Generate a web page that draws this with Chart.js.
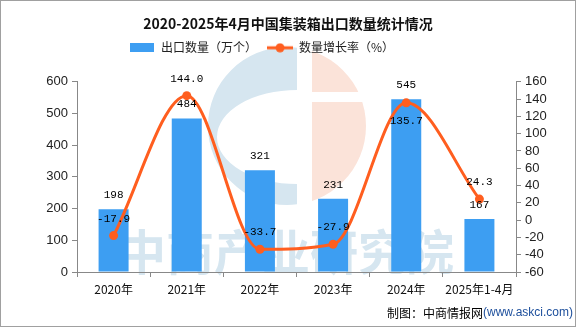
<!DOCTYPE html>
<html>
<head>
<meta charset="utf-8">
<script src="https://cdn.jsdelivr.net/npm/chart.js@4.4.0/dist/chart.umd.min.js"></script>
<style>
html, body { margin: 0; padding: 0; background: #fff; }
</style>
</head>
<body>
<canvas id="chart" width="576" height="327"></canvas>
<script>
// data
var categories = ["2020年", "2021年", "2022年", "2023年", "2024年", "2025年1-4月"];
var exportQty = [198, 484, 321, 231, 545, 167];          // 出口数量（万个）
var growthRate = [-17.9, 144.0, -33.7, -27.9, 135.7, 24.3]; // 数量增长率（%）

var BAR_COLOR = "#3d9ef2";
var LINE_COLOR = "#ff5e1f";
var CJK = "'Noto Sans CJK SC', 'Liberation Sans', sans-serif";
var NUM = "'Liberation Sans', 'DejaVu Sans', sans-serif";

// legend icons
function makeIcon(w, h, draw) {
	var c = document.createElement("canvas");
	c.width = w; c.height = h;
	draw(c.getContext("2d"));
	return c;
}
var barIcon = makeIcon(24, 9, function (g) {
	g.fillStyle = BAR_COLOR;
	g.fillRect(0, 0, 24, 9);
});
var lineIcon = makeIcon(26, 10, function (g) {
	g.strokeStyle = LINE_COLOR;
	g.lineWidth = 3;
	g.beginPath(); g.moveTo(0, 5); g.lineTo(26, 5); g.stroke();
	g.fillStyle = LINE_COLOR;
	g.beginPath(); g.arc(13, 5, 4.5, 0, Math.PI * 2); g.fill();
});

// watermark, labels, footer, border
var decoPlugin = {
	id: "deco",
	beforeLayout: function (chart) {
		// give the legend a fixed block height so the plot starts lower
		var lg = chart.legend;
		if (lg && !lg._fixed) {
			var fit = lg.fit;
			lg.fit = function () { fit.call(this); this.height = 50; };
			lg._fixed = true;
		}
	},
	beforeDraw: function (chart) {
		var ctx = chart.ctx;
		ctx.save();
		ctx.fillStyle = "#fff";
		ctx.fillRect(0, 0, chart.width, chart.height);

		// blue "C"
		ctx.save();
		ctx.beginPath(); ctx.rect(0, 0, 297, 327); ctx.clip();
		ctx.beginPath();
		ctx.arc(287, 126, 79, 0, Math.PI * 2);
		ctx.ellipse(297, 137, 80, 47, 0, 0, Math.PI * 2);
		ctx.fillStyle = "#d6e6f0";
		ctx.fill("evenodd");
		ctx.restore();

		// peach half
		ctx.save();
		ctx.beginPath(); ctx.rect(312, 0, 100, 92); ctx.rect(312, 102, 100, 200); ctx.clip();
		ctx.beginPath();
		ctx.arc(287, 126, 79, 0, Math.PI * 2);
		ctx.fillStyle = "#fbe3d9";
		ctx.fill();
		ctx.restore();

		// text watermark
		ctx.font = "bold 48px " + CJK;
		ctx.fillStyle = "#d6e6f0";
		ctx.textBaseline = "middle";
		ctx.textAlign = "left";
		ctx.fillText("中商产业研究院", 118, 252);
		ctx.restore();
	},
	afterLayout: function (chart) {
		// legend sits left of centre in the reference
		chart.legend.left = 119;
	},
	afterDatasetsDraw: function (chart) {
		var ctx = chart.ctx;
		ctx.save();
		ctx.font = "11px 'Liberation Mono', monospace";
		ctx.fillStyle = "#000";
		ctx.textAlign = "center";
		ctx.textBaseline = "middle";
		var bars = chart.getDatasetMeta(0).data;
		bars.forEach(function (el, i) {
			ctx.fillText(String(exportQty[i]), el.x, el.y - 14);
		});
		chart.getDatasetMeta(1).data.forEach(function (el, i) {
			// put the label under the point when it would collide with the bar label
			var below = Math.abs(el.y - bars[i].y) < 12;
			ctx.fillText(growthRate[i].toFixed(1), el.x, below ? el.y + 18 : el.y - 17);
		});
		ctx.restore();
	},
	afterDraw: function (chart) {
		var ctx = chart.ctx;
		ctx.save();
		ctx.textBaseline = "middle";
		ctx.textAlign = "left";
		ctx.font = "12px " + CJK;
		ctx.fillStyle = "#000";
		var t1 = "制图：中商情报网";
		ctx.fillText(t1, 387, 313);
		var w1 = ctx.measureText(t1).width;
		ctx.font = "12px " + NUM;
		ctx.fillStyle = "#1d4f9c";
		ctx.fillText("(www.askci.com)", 387 + w1, 313);
		ctx.strokeStyle = "#a0a0a0";
		ctx.lineWidth = 1;
		ctx.strokeRect(0.5, 0.5, chart.width - 1, chart.height - 1);
		ctx.restore();
	}
};

Chart.defaults.font.family = CJK;
Chart.defaults.color = "#222";

new Chart(document.getElementById("chart"), {
	type: "bar",
	data: {
		labels: categories,
		datasets: [
			{
				type: "bar",
				label: "出口数量（万个）",
				data: exportQty,
				backgroundColor: BAR_COLOR,
				barPercentage: 0.41,
				categoryPercentage: 1,
				yAxisID: "y",
				order: 2
			},
			{
				type: "line",
				label: "数量增长率（%）",
				data: growthRate,
				borderColor: LINE_COLOR,
				backgroundColor: LINE_COLOR,
				borderWidth: 3,
				pointRadius: 4.5,
				pointBorderWidth: 0,
				cubicInterpolationMode: "monotone",
				yAxisID: "y1",
				order: 1
			}
		]
	},
	options: {
		responsive: false,
		animation: false,
		layout: { padding: 0 },
		plugins: {
			title: {
				display: true,
				text: "2020-2025年4月中国集装箱出口数量统计情况",
				color: "#111",
				font: { size: 14, weight: "bold", family: CJK },
				padding: { top: 15, bottom: 0 }
			},
			legend: {
				align: "start",
				labels: {
					usePointStyle: true,
					pointStyleWidth: 26,
					padding: 10,
					color: "#222",
					font: { size: 12, family: CJK },
					generateLabels: function (chart) {
						var items = Chart.defaults.plugins.legend.labels.generateLabels(chart);
						items.sort(function (a, b) { return a.datasetIndex - b.datasetIndex; });
						items.forEach(function (it) {
							it.pointStyle = it.datasetIndex === 0 ? barIcon : lineIcon;
						});
						return items;
					}
				},
				onClick: null
			},
			tooltip: { enabled: false }
		},
		scales: {
			x: {
				grid: { display: true, drawOnChartArea: false, tickLength: 5, color: "#888", offset: true },
				border: { color: "#888" },
				ticks: { color: "#111", padding: 5, font: { size: 12, family: CJK }, maxRotation: 0, autoSkip: false },
				afterFit: function (s) { s.height = 55; }
			},
			y: {
				position: "left",
				min: 0, max: 600,
				ticks: { stepSize: 100, color: "#222", padding: 4, autoSkip: false, font: { size: 13, family: NUM } },
				grid: { drawOnChartArea: false, tickLength: 5, color: "#888" },
				border: { color: "#888" },
				afterFit: function (s) { s.width = 77; }
			},
			y1: {
				position: "right",
				min: -60, max: 160,
				ticks: { stepSize: 20, color: "#222", padding: 4, autoSkip: false, font: { size: 13, family: NUM } },
				grid: { drawOnChartArea: false, tickLength: 5, color: "#888" },
				border: { color: "#888" },
				afterFit: function (s) { s.width = 60; }
			}
		}
	},
	plugins: [decoPlugin]
});
</script>
</body>
</html>
